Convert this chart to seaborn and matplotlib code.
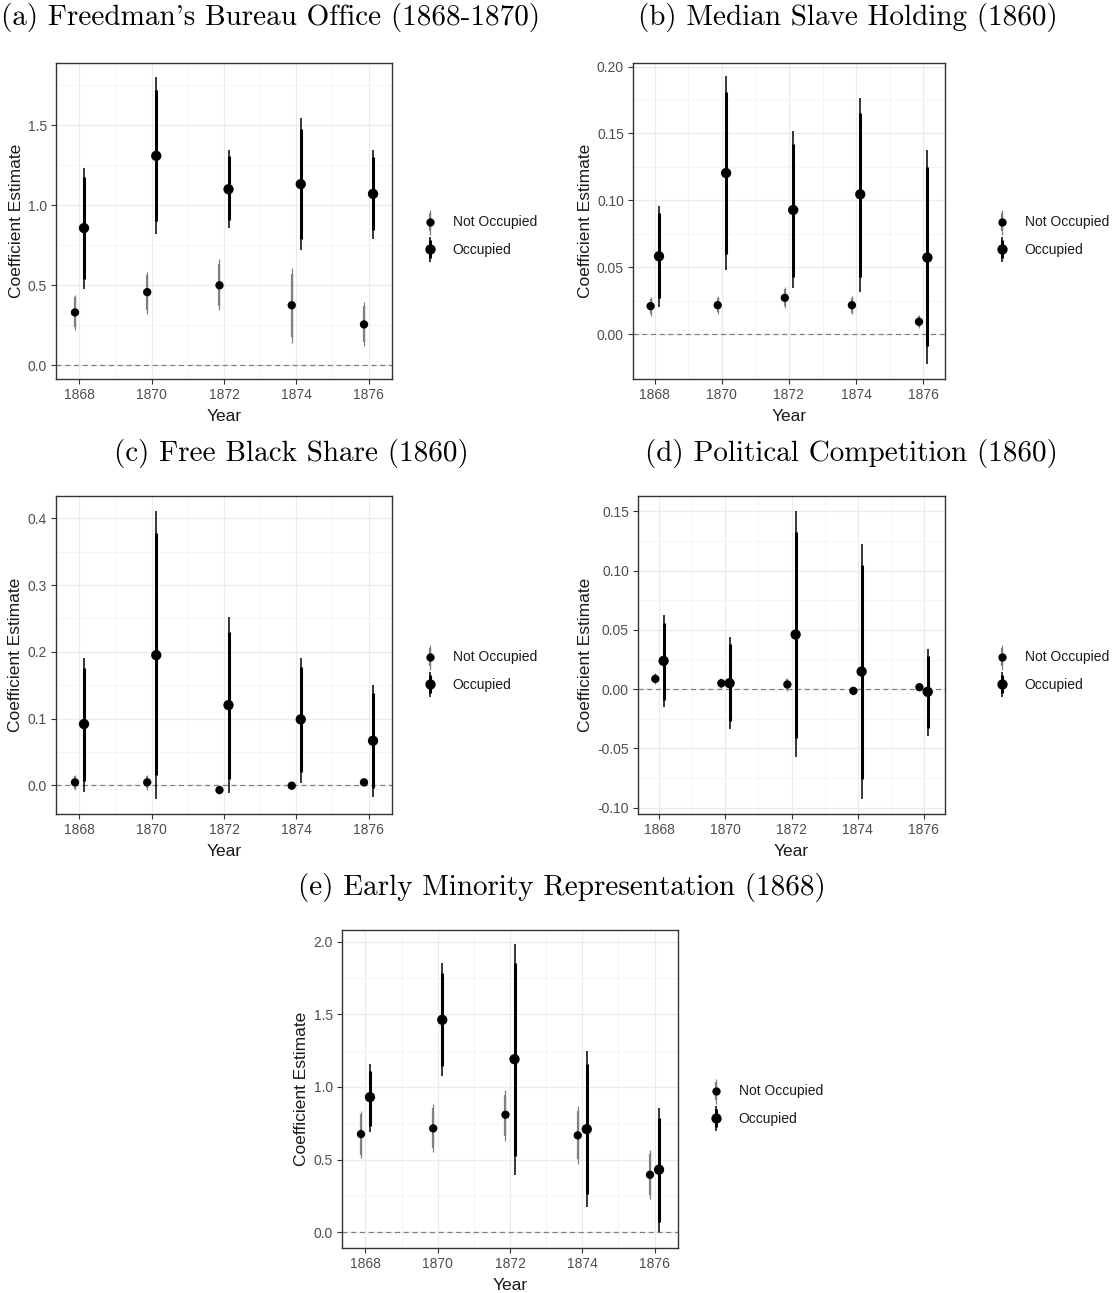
import numpy as np
import pandas as pd
import matplotlib
matplotlib.use("Agg")
import matplotlib.pyplot as plt
from matplotlib.lines import Line2D
from matplotlib.legend_handler import HandlerTuple
import seaborn as sns

# ---------------- data (est, lo95, hi95, lo90, hi90) per year ----------------
YEARS = [1868, 1870, 1872, 1874, 1876]
GROUPS = ["Not Occupied", "Occupied"]

A_NOT = [(0.329, 0.218, 0.441, 0.235, 0.426), (0.456, 0.318, 0.583, 0.347, 0.562),
         (0.499, 0.347, 0.666, 0.370, 0.635), (0.374, 0.135, 0.610, 0.177, 0.572),
         (0.254, 0.121, 0.395, 0.146, 0.370)]
A_OCC = [(0.857, 0.476, 1.236, 0.539, 1.175), (1.309, 0.822, 1.804, 0.899, 1.720),
         (1.100, 0.857, 1.348, 0.905, 1.311), (1.132, 0.722, 1.548, 0.790, 1.478),
         (1.071, 0.788, 1.348, 0.843, 1.300)]

B_NOT = [(0.0209, 0.0137, 0.0276, 0.0152, 0.0262), (0.0216, 0.0152, 0.0281, 0.0163, 0.0270),
         (0.0271, 0.0194, 0.0350, 0.0207, 0.0335), (0.0216, 0.0147, 0.0286, 0.0158, 0.0273),
         (0.0092, 0.0042, 0.0144, 0.0051, 0.0135)]
B_OCC = [(0.0582, 0.0206, 0.0958, 0.0269, 0.0903), (0.1204, 0.0480, 0.1928, 0.0600, 0.1810),
         (0.0928, 0.0343, 0.1517, 0.0430, 0.1420), (0.1045, 0.0318, 0.1764, 0.0430, 0.1650),
         (0.0572, -0.0224, 0.1380, -0.0092, 0.1250)]

C_NOT = [(0.0045, -0.0075, 0.0160, -0.0055, 0.0140), (0.0045, -0.0065, 0.0155, -0.0045, 0.0135),
         (-0.0070, -0.0125, -0.0015, -0.0115, -0.0025), (-0.0005, -0.0055, 0.0045, -0.0045, 0.0035),
         (0.0045, -0.0015, 0.0105, -0.0005, 0.0095)]
C_OCC = [(0.0918, -0.0105, 0.1915, 0.0060, 0.1756), (0.1950, -0.0204, 0.4115, 0.0160, 0.3776),
         (0.1202, -0.0115, 0.2524, 0.0095, 0.2304), (0.0988, 0.0035, 0.1915, 0.0195, 0.1770),
         (0.0668, -0.0175, 0.1506, -0.0040, 0.1380)]

D_NOT = [(0.0087, 0.0042, 0.0135, 0.0050, 0.0127), (0.0050, 0.0006, 0.0096, 0.0013, 0.0088),
         (0.0040, -0.0014, 0.0093, -0.0005, 0.0085), (-0.0014, -0.0045, 0.0017, -0.0040, 0.0012),
         (0.0017, -0.0011, 0.0045, -0.0006, 0.0040)]
D_OCC = [(0.0239, -0.0154, 0.0624, -0.0090, 0.0560), (0.0051, -0.0334, 0.0444, -0.0270, 0.0380),
         (0.0461, -0.0576, 0.1506, -0.0410, 0.1330), (0.0149, -0.0927, 0.1225, -0.0756, 0.1050),
         (-0.0022, -0.0393, 0.0340, -0.0330, 0.0280)]

E_NOT = [(0.676, 0.509, 0.838, 0.534, 0.816), (0.715, 0.554, 0.880, 0.580, 0.855),
         (0.809, 0.628, 0.976, 0.660, 0.946), (0.667, 0.470, 0.871, 0.504, 0.838),
         (0.396, 0.229, 0.568, 0.259, 0.538)]
E_OCC = [(0.930, 0.692, 1.159, 0.733, 1.113), (1.462, 1.077, 1.851, 1.145, 1.782),
         (1.191, 0.396, 1.982, 0.527, 1.856), (0.710, 0.174, 1.249, 0.266, 1.159),
         (0.431, 0.000, 0.855, 0.069, 0.786)]

TITLES = ["(a) Freedman's Bureau Office (1868-1870)",
          "(b) Median Slave Holding (1860)",
          "(c) Free Black Share (1860)",
          "(d) Political Competition (1860)",
          "(e) Early Minority Representation (1868)"]

A_YTICKS = [0.0, 0.5, 1.0, 1.5]
B_YTICKS = [0.00, 0.05, 0.10, 0.15, 0.20]
C_YTICKS = [0.0, 0.1, 0.2, 0.3, 0.4]
D_YTICKS = [-0.10, -0.05, 0.00, 0.05, 0.10, 0.15]
E_YTICKS = [0.0, 0.5, 1.0, 1.5, 2.0]

# ---------------- style ----------------
sns.set_theme(style="white")
plt.rcParams["font.family"] = ["Liberation Sans", "DejaVu Sans"]
plt.rcParams["axes.unicode_minus"] = False

W, H = 1119, 1293
fig = plt.figure(figsize=(W / 100, H / 100), dpi=100)
fig.patch.set_facecolor("white")

GREY = "#808080"
DODGE = {"Not Occupied": -0.125, "Occupied": 0.125}
LINE_COL = {"Not Occupied": GREY, "Occupied": "black"}
LW_THIN = {"Not Occupied": 0.9, "Occupied": 1.1}
LW_THICK = {"Not Occupied": 1.6, "Occupied": 2.2}
PT_SIZE = {"Not Occupied": 36, "Occupied": 55}


def make_df(not_rows, occ_rows):
    recs = []
    for g, rows in zip(GROUPS, [not_rows, occ_rows]):
        for yr, (est, lo95, hi95, lo90, hi90) in zip(YEARS, rows):
            recs.append(dict(year=yr, group=g, est=est, lo95=lo95, hi95=hi95,
                             lo90=lo90, hi90=hi90))
    df = pd.DataFrame(recs)
    df["xpos"] = df["year"] + df["group"].map(DODGE)
    return df


def px_axes(x0, y0, x1, y1):
    return fig.add_axes([x0 / W, 1 - y1 / H, (x1 - x0) / W, (y1 - y0) / H])


def panel(rect, df, ylim, yticks, yminor, fmt):
    ax = px_axes(*rect)
    ax.set_facecolor("white")
    for g in GROUPS:
        d = df[df["group"] == g]
        ax.vlines(d["xpos"], d["lo95"], d["hi95"], color=LINE_COL[g],
                  lw=LW_THIN[g], zorder=3)
        ax.vlines(d["xpos"], d["lo90"], d["hi90"], color=LINE_COL[g],
                  lw=LW_THICK[g], zorder=3)
    sns.scatterplot(data=df, x="xpos", y="est", hue="group", size="group",
                    palette={"Not Occupied": "black", "Occupied": "black"},
                    sizes=PT_SIZE, size_order=GROUPS[::-1], legend=False, ax=ax,
                    linewidth=0, zorder=4)
    ax.axhline(0, color=GREY, lw=0.9, ls=(0, (4, 3)), zorder=2)
    ax.set_xlim(1867.35, 1876.65)
    ax.set_ylim(*ylim)
    ax.set_xticks(YEARS)
    ax.set_xticks([1869, 1871, 1873, 1875], minor=True)
    ax.set_yticks(yticks)
    ax.set_yticklabels([fmt.format(v) for v in yticks])
    ax.set_yticks(yminor, minor=True)
    ax.grid(which="major", color="#EBEBEB", lw=0.9)
    ax.grid(which="minor", color="#F4F4F4", lw=0.6)
    ax.set_axisbelow(True)
    for s in ax.spines.values():
        s.set_color("#333333")
        s.set_linewidth(1.0)
        s.set_visible(True)
    ax.tick_params(which="major", direction="out", length=3.5, width=0.8,
                   color="#333333", labelcolor="#4D4D4D", labelsize=10, pad=3,
                   left=True, bottom=True)
    ax.tick_params(which="minor", length=0)
    ax.set_xlabel("Year", fontsize=12.5, color="#1A1A1A", labelpad=5)
    ax.set_ylabel("Coefficient Estimate", fontsize=12.5, color="#1A1A1A", labelpad=3)
    return ax


def legend_at(x_px, y_px):
    handles = []
    for g in GROUPS:
        thin = Line2D([], [], marker="|", markersize=18, mew=LW_THIN[g],
                      color=LINE_COL[g], ls="None")
        thick = Line2D([], [], marker="|", markersize=13, mew=LW_THICK[g],
                       color=LINE_COL[g], ls="None")
        dot = Line2D([], [], marker="o", markersize=np.sqrt(PT_SIZE[g]),
                     color="black", mew=0, ls="None")
        handles.append((thin, thick, dot))
    fig.legend(handles, GROUPS, handler_map={tuple: HandlerTuple(ndivide=1, pad=0)},
               loc="center left", bbox_to_anchor=(x_px / W, 1 - y_px / H),
               frameon=False, fontsize=10, handlelength=1.0, handletextpad=1.15,
               labelspacing=0.95, borderpad=0, borderaxespad=0,
               labelcolor="#1A1A1A")


pa = panel((56, 63, 392, 379), make_df(A_NOT, A_OCC), (-0.0875, 1.89), A_YTICKS,
           [0.25, 0.75, 1.25, 1.75], "{:.1f}")
pb = panel((633, 63, 945, 379), make_df(B_NOT, B_OCC), (-0.0336, 0.2027), B_YTICKS,
           [0.025, 0.075, 0.125, 0.175], "{:.2f}")
pc = panel((56, 496, 392, 814), make_df(C_NOT, C_OCC), (-0.0429, 0.4334), C_YTICKS,
           [0.05, 0.15, 0.25, 0.35], "{:.1f}")
pd_ = panel((638, 496, 945, 814), make_df(D_NOT, D_OCC), (-0.1053, 0.163), D_YTICKS,
            [-0.075, -0.025, 0.025, 0.075, 0.125], "{:.2f}")
pe = panel((342, 930, 678, 1248), make_df(E_NOT, E_OCC), (-0.1077, 2.08), E_YTICKS,
           [0.25, 0.75, 1.25, 1.75], "{:.1f}")

legend_at(423, 236)
legend_at(995, 236)
legend_at(423, 671)
legend_at(995, 671)
legend_at(709, 1105)

title_pos = [(271, 18), (848, 18), (291, 453), (851, 453), (562, 888)]
for t, (x, y) in zip(TITLES, title_pos):
    fig.text(x / W, 1 - y / H, t, ha="center", va="center",
             fontfamily="cmr10", fontsize=21, color="black")

fig.savefig("out.png", dpi=100, facecolor="white")
